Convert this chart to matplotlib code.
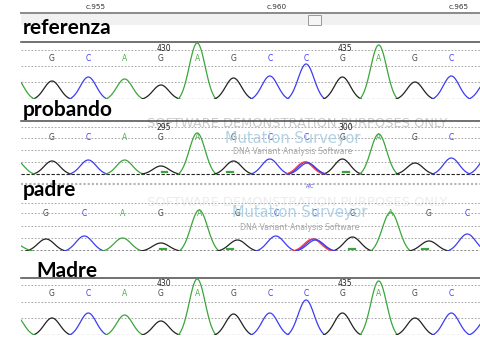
import numpy as np
import matplotlib.pyplot as plt
from matplotlib.patches import Rectangle

W, H = 481, 340

# ── Data ─────────────────────────────────────────────────────────────────────
BASES = ["G", "C", "A", "G", "A", "G", "C", "C", "G", "A", "G", "C"]

REF_HEIGHTS = [18, 22, 20, 14, 56, 21, 23, 35, 22, 54, 17, 23]
PRO_HEIGHTS = [13, 14, 14, 8, 41, 13, 15, 12, 15, 40, 11, 16]
PAD_HEIGHTS = [12, 15, 13, 8, 41, 11, 15, 12, 14, 39, 10, 17]
MAD_HEIGHTS = [17, 22, 20, 14, 56, 21, 22, 35, 22, 54, 17, 22]

# peaks just outside the visible window: (index, base, height)
REF_FLANK = [(-1, "A", 21), (12, "C", 19)]
PRO_FLANK = [(-1, "A", 14), (12, "C", 17)]
PAD_FLANK = [(-0.85, "A", 8)]
MAD_FLANK = [(-1, "A", 19), (12, "C", 17)]

# secondary T signal at the variant position
VAR_INDEX = 7
PRO_T = 12
PAD_T = 12

# small A signal near the baseline
PRO_MINOR = [3.1, 4.9, 8.1]
PAD_MINOR = [3.05, 4.8, 8.0, 9.9]

REF_POS = [(3, "430"), (8, "435")]
PRO_POS = [(3, "295"), (8, "300")]
RULER = [(1.2, "c.955"), (6.2, "c.960"), (11.2, "c.965")]

TRACE = {"G": "#222222", "C": "#3c3cf5", "A": "#3aa63a", "T": "#ff3c3c"}
LETTER = {"G": "#444444", "C": "#3c3cf5", "A": "#4cb04c"}


def add_px_axes(fig, left, top, right, bottom):
    return fig.add_axes([left / W, 1 - bottom / H,
                         (right - left) / W, (bottom - top) / H])


def peak(ax, c, base, h, sigma=0.22, half=0.52, lw=0.9, z=3):
    x = np.linspace(c - half, c + half, 80)
    g = np.exp(-0.5 * ((x - c) / sigma) ** 2)
    g0 = np.exp(-0.5 * (half / sigma) ** 2)
    ax.plot(x, h * (g - g0) / (1 - g0), color=TRACE[base], lw=lw, zorder=z)


def panel(ax, heights, flank, letter_y, grids, x0, dx, ymin, ymax):
    ax.set_xlim((21 - x0) / dx, (481 - x0) / dx)
    ax.set_ylim(ymin, ymax)
    ax.axis("off")
    for g in grids:
        ax.axhline(g, color="#9a9a9a", lw=0.6, ls=(0, (2, 2)), zorder=1)
    ax.axhline(0, color="#222222", lw=0.8, ls=(0, (3, 1.5)), zorder=2)
    for i, (b, h) in enumerate(zip(BASES, heights)):
        peak(ax, i, b, h)
        ax.text(i, letter_y, b, color=LETTER[b], fontsize=5.5,
                ha="center", va="center", zorder=4)
    for i, b, h in flank:
        peak(ax, i, b, h)


fig = plt.figure(figsize=(W / 100, H / 100), dpi=100)

# background / decoration layer in pixel units
bg = fig.add_axes([0, 0, 1, 1])
bg.set_xlim(0, W)
bg.set_ylim(H, 0)
bg.axis("off")
bg.add_patch(Rectangle((21, 13), 460, 12, facecolor="#f1f1f1", edgecolor="none"))
bg.plot([21, 481], [13, 13], color="#8a8a8a", lw=1.4)
bg.add_patch(Rectangle((308, 14.5), 13, 10, facecolor="#f6f6f6",
                       edgecolor="#9a9a9a", lw=0.7))
for y in (42, 121, 278):
    bg.plot([21, 481], [y, y], color="#4a4a4a", lw=1.1)
bg.plot([21, 481], [184, 184], color="#b4b4b4", lw=1.5, ls=(0, (1, 1)))

label_font = dict(fontsize=15, fontweight="bold", family=["Lato", "DejaVu Sans"],
                  color="black", va="baseline", ha="left")
bg.text(23, 34, "referenza", **label_font)
bg.text(23, 115.5, "probando", **label_font)
bg.text(23, 196.5, "padre", **label_font)
bg.text(36, 277, "Madre", **label_font)

# watermarks
bg.text(297, 123.5, "SOFTWARE DEMONSTRATION PURPOSES ONLY", color="#cbcbcb",
        fontsize=9.4, ha="center", va="center", zorder=0.5)
bg.text(297, 203, "SOFTWARE DEMONSTRATION PURPOSES ONLY", color="#ececec",
        fontsize=9.4, ha="center", va="center", zorder=0.5)

# ruler
ruler = add_px_axes(fig, 21, 0, 481, 12)
ruler.set_xlim((21 - 52) / 36.3, (481 - 52) / 36.3)
ruler.set_ylim(0, 1)
ruler.axis("off")
for x, t in RULER:
    ruler.text(x, 0.45, t, fontsize=5.2, color="#333333", ha="center", va="center")

# referenza
ax_ref = add_px_axes(fig, 21, 42, 481, 99)
panel(ax_ref, REF_HEIGHTS, REF_FLANK, 41, [49, 33, 17], 52, 36.3, 0, 57)
for i, t in REF_POS:
    ax_ref.text(i + 0.08, 50.5, t, fontsize=5.5, color="#222222", ha="center", va="center")

# probando
ax_pro = add_px_axes(fig, 21, 121, 481, 190)
panel(ax_pro, PRO_HEIGHTS, PRO_FLANK, 36, [47, 36, 24, 12], 52, 36.3, -16, 53)
peak(ax_pro, VAR_INDEX - 0.04, "T", PRO_T, z=3)
peak(ax_pro, VAR_INDEX + 0.04, "C", PRO_HEIGHTS[VAR_INDEX] - 1, z=3.5)
for m in PRO_MINOR:
    ax_pro.plot([m - 0.08, m + 0.08], [2, 2], color=TRACE["A"], lw=1.6, zorder=3)
for i, t in PRO_POS:
    ax_pro.text(i + 0.08, 47, t, fontsize=5.5, color="#222222", ha="center", va="center")
ax_pro.text(VAR_INDEX + 0.12, -12.5, "A/C", fontsize=3.5, color="#3c3cf5",
            ha="center", va="center")

# padre
ax_pad = add_px_axes(fig, 21, 200, 481, 251)
panel(ax_pad, PAD_HEIGHTS, PAD_FLANK, 38, [48, 38, 25, 13], 46, 38.3, 0, 51)
peak(ax_pad, VAR_INDEX - 0.04, "T", PAD_T, z=3)
peak(ax_pad, VAR_INDEX + 0.04, "C", PAD_HEIGHTS[VAR_INDEX] - 1, z=3.5)
for m in PAD_MINOR:
    ax_pad.plot([m - 0.08, m + 0.08], [2, 2], color=TRACE["A"], lw=1.6, zorder=3)
ax_pad.axhline(0, color="#8a8a8a", lw=1.4, ls=(0, (1, 1)), zorder=2)

# Madre
ax_mad = add_px_axes(fig, 21, 278, 481, 335)
panel(ax_mad, MAD_HEIGHTS, MAD_FLANK, 41, [50, 33, 17], 52, 36.3, 0, 57)
for i, t in REF_POS:
    ax_mad.text(i + 0.08, 52, t, fontsize=5.5, color="#222222", ha="center", va="center")

# Mutation Surveyor watermarks on top
top = fig.add_axes([0, 0, 1, 1])
top.set_xlim(0, W)
top.set_ylim(H, 0)
top.axis("off")
for cx, cy, dy in [(293, 139, 12), (300, 213, 14)]:
    top.text(cx, cy, "Mutation Surveyor", color="#a9cde3", fontsize=10.5,
             ha="center", va="center", alpha=0.9)
    top.text(cx + 63, cy - 2, "®", color="#c8c8c8", fontsize=4, ha="center", va="center")
    top.text(cx, cy + dy, "DNA Variant Analysis Software", color="#a8a8a8",
             fontsize=5.6, ha="center", va="center")

fig.savefig("out.png", dpi=100)
